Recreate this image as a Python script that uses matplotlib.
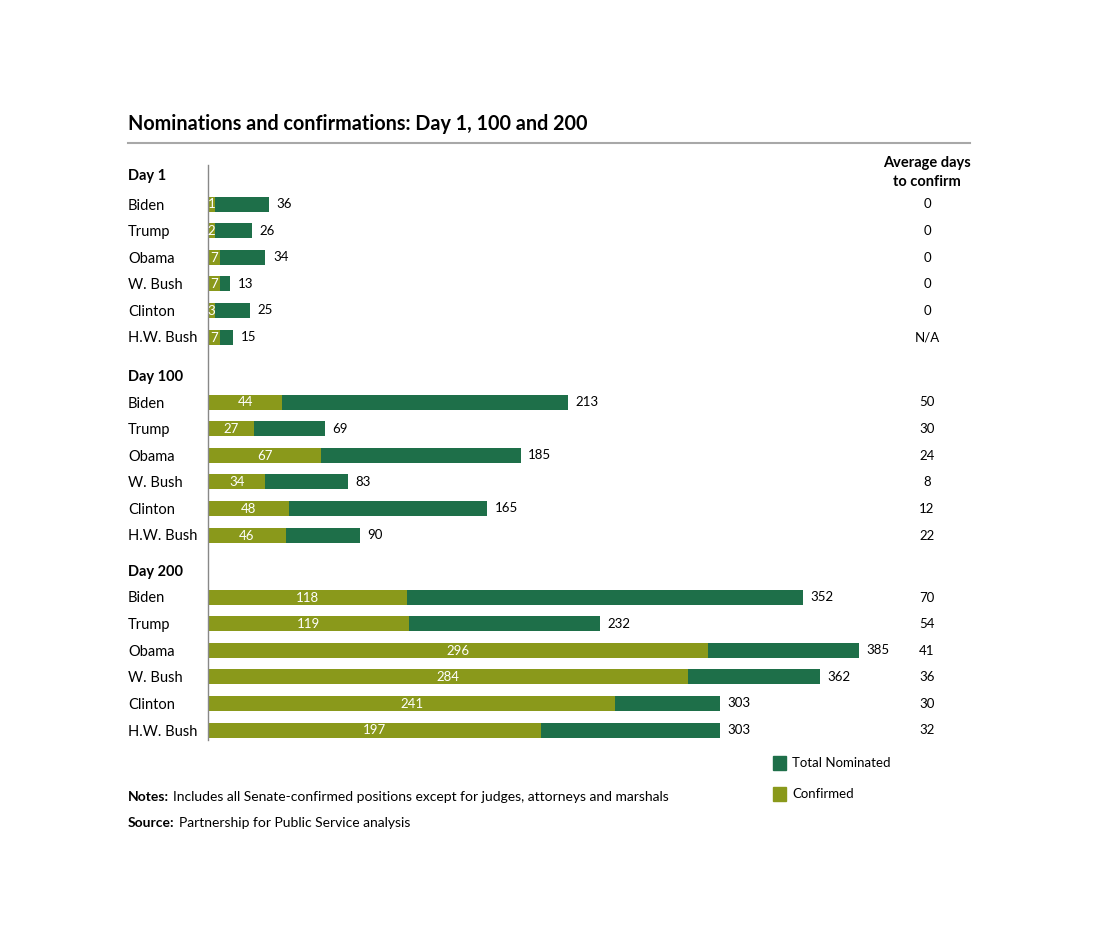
import numpy as np
import matplotlib.pyplot as plt
from matplotlib.transforms import blended_transform_factory
from matplotlib.patches import Rectangle

plt.rcParams['font.family'] = ['Lato', 'DejaVu Sans']

# data
presidents = ["Biden", "Trump", "Obama", "W. Bush", "Clinton", "H.W. Bush"]
groups = ["Day 1", "Day 100", "Day 200"]
nominated = [
    [36, 26, 34, 13, 25, 15],
    [213, 69, 185, 83, 165, 90],
    [352, 232, 385, 362, 303, 303],
]
confirmed = [
    [1, 2, 7, 7, 3, 7],
    [44, 27, 67, 34, 48, 46],
    [118, 119, 296, 284, 241, 197],
]
avg_days = [
    ["0", "0", "0", "0", "0", "N/A"],
    ["50", "30", "24", "8", "12", "22"],
    ["70", "54", "41", "36", "30", "32"],
]

GREEN = "#1e6f49"
OLIVE = "#8a991b"
W, H = 1100, 943
PX_PER_UNIT = 1.69
MIN_W = 4.0  # smallest drawn width so the tiny labels stay readable

fig = plt.figure(figsize=(W / 100, H / 100), dpi=100)
ax = fig.add_axes([208 / W, 0, (W - 208) / W, 1])
ax.set_xlim(0, (W - 208) / PX_PER_UNIT)
ax.set_ylim(H, 0)
ax.axis("off")
tr = blended_transform_factory(fig.transFigure, ax.transData)

# title + rule
fig.text(128 / W, 1 - 124 / H, "Nominations and confirmations: Day 1, 100 and 200",
         fontsize=14.2, fontweight="bold", va="center", ha="left")
fig.add_artist(plt.Line2D([128 / W, 970 / W], [1 - 143 / H, 1 - 143 / H],
                          color="#a8a8a8", lw=1.5))

# column header
ax.text(927 / W, 163, "Average days", transform=tr, ha="center", va="center",
        fontsize=10.5, fontweight="bold")
ax.text(927 / W, 182, "to confirm", transform=tr, ha="center", va="center",
        fontsize=10.5, fontweight="bold")

header_y = [176, 377, 572]
first_row_y = [204, 402, 597]
step = 26.6
for g, gname in enumerate(groups):
    ax.text(128 / W, header_y[g], gname, transform=tr, ha="left", va="center",
            fontsize=10.5, fontweight="bold")
    ys = first_row_y[g] + step * np.arange(len(presidents))
    nom = np.array(nominated[g])
    con = np.array(confirmed[g])
    ax.barh(ys, nom, height=15, color=GREEN, left=0)
    ax.barh(ys, np.maximum(con, MIN_W), height=15, color=OLIVE, left=0)
    for i, name in enumerate(presidents):
        y = ys[i]
        ax.text(128 / W, y + 1.5, name, transform=tr, ha="left", va="center", fontsize=10.5)
        ax.text(nom[i] + 4.5, y, str(nom[i]), ha="left", va="center", fontsize=9.5)
        ax.text(max(con[i], MIN_W) / 2, y + 0.5, str(con[i]), ha="center", va="center",
                fontsize=9.5, color="white")
        ax.text(927 / W, y + 0.5, avg_days[g][i], transform=tr, ha="center",
                va="center", fontsize=9.5)

# vertical axis line
ax.plot([0, 0], [165, 740], color="#888888", lw=1, clip_on=False)

# legend
for (label, col, ly) in [("Total Nominated", GREEN, 763), ("Confirmed", OLIVE, 794)]:
    fig.add_artist(Rectangle((773 / W, 1 - (ly + 7) / H), 13 / W, 14 / H,
                             transform=fig.transFigure, color=col))
    fig.text(792 / W, 1 - ly / H, label, fontsize=9.5, va="center", ha="left")

# notes / source: bold lead-in followed by regular text
renderer = fig.canvas.get_renderer()
for lead, body, ly in [("Notes:", "Includes all Senate-confirmed positions except for judges, attorneys and marshals", 797),
                       ("Source:", "Partnership for Public Service analysis", 823)]:
    t = fig.text(128 / W, 1 - ly / H, lead, fontsize=10, va="center", fontweight="bold")
    bb = t.get_window_extent(renderer)
    fig.text((bb.x1 + 4) / W, 1 - ly / H, body, fontsize=10, va="center")

fig.savefig("out.png", dpi=100, facecolor="white")
